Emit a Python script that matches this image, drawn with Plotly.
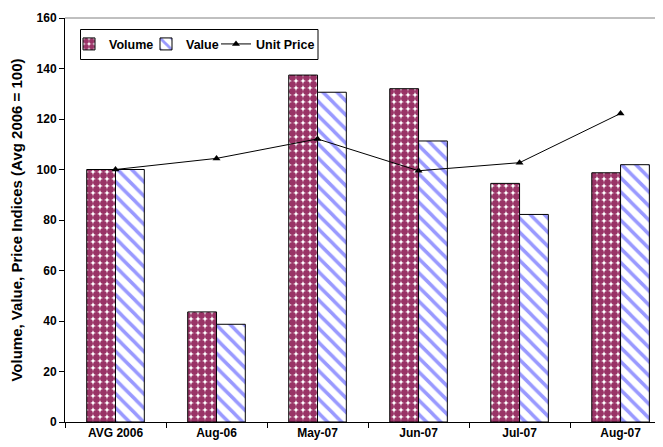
import plotly.graph_objects as go

categories = ["AVG 2006", "Aug-06", "May-07", "Jun-07", "Jul-07", "Aug-07"]
volume = [100, 43.6, 137.4, 132.0, 94.5, 98.7]
value = [100, 38.7, 130.6, 111.3, 82.2, 101.9]
unit_price = [100, 104.4, 112.1, 99.5, 102.7, 122.2]
y_ticks = [0, 20, 40, 60, 80, 100, 120, 140, 160]

FONT = "Liberation Sans, Arial, sans-serif"

# plot area in page pixels: left 65, width 598, bottom 422, height 404
def px_x(p):
    return (p - 65) / 598.0

def px_y(p):
    return (422 - p) / 404.0

fig = go.Figure()
fig.add_trace(go.Bar(
    x=categories, y=volume, name="<b>Volume</b>", legend="legend",
    marker=dict(color="#993366", line=dict(color="#000000", width=1),
                pattern=dict(shape=".", fgcolor="#993366", bgcolor="#ffffff",
                             size=7, solidity=0.75, fillmode="replace")),
))
fig.add_trace(go.Bar(
    x=categories, y=value, name="<b>Value</b>", legend="legend2",
    marker=dict(color="#9999ff", line=dict(color="#000000", width=1),
                pattern=dict(shape="\\", fgcolor="#9999ff", bgcolor="#ffffff",
                             size=10, solidity=0.35, fillmode="replace")),
))
fig.add_trace(go.Scatter(
    x=categories, y=unit_price, name="<b>Unit Price</b>", mode="lines+markers",
    legend="legend3",
    line=dict(color="#000000", width=1),
    marker=dict(symbol="triangle-up", size=7, color="#000000"),
))

leg_common = dict(orientation="h", xanchor="left", yanchor="middle",
                  bgcolor="rgba(0,0,0,0)", borderwidth=0,
                  font=dict(family=FONT, size=12.5, color="#000000"),
                  itemwidth=30)

fig.update_layout(
    width=655, height=439,
    margin=dict(l=57, r=0, t=10, b=25, autoexpand=False),
    paper_bgcolor="#ffffff", plot_bgcolor="#ffffff",
    font=dict(family=FONT, size=12, color="#000000"),
    barmode="group", bargap=0.43, bargroupgap=0,
    showlegend=True,
    legend=dict(x=px_x(69), y=px_y(44.3), **leg_common),
    legend2=dict(x=px_x(146), y=px_y(44.3), **leg_common),
    legend3=dict(x=px_x(216), y=px_y(44.3), **leg_common),
    xaxis=dict(
        type="category", range=[-0.5, 5.42], automargin=False,
        showline=True, linecolor="#000000", linewidth=1,
        ticks="outside", ticklen=5, tickcolor="#000000", tickson="boundaries",
        showgrid=False, zeroline=False,
        tickfont=dict(family=FONT, size=12, color="#000000"),
        tickvals=categories, ticktext=["<b>%s</b>" % c for c in categories],
    ),
    yaxis=dict(
        range=[0, 160], tickvals=y_ticks, ticktext=["<b>%d</b>" % t for t in y_ticks],
        automargin=False,
        showline=True, linecolor="#000000", linewidth=1,
        ticks="outside", ticklen=5, tickcolor="#000000",
        showgrid=False, zeroline=False,
        tickfont=dict(family=FONT, size=12, color="#000000"),
        title=dict(text="<b>Volume, Value, Price Indices (Avg 2006 = 100)</b>",
                   font=dict(family=FONT, size=15, color="#000000"), standoff=10),
    ),
    shapes=[
        dict(type="line", xref="paper", yref="paper", x0=0, x1=1, y0=1, y1=1,
             line=dict(color="#808080", width=1)),
        dict(type="rect", xref="paper", yref="paper", layer="above",
             x0=px_x(80.5), x1=px_x(318), y0=px_y(59.5), y1=px_y(29.5),
             fillcolor="#ffffff", line=dict(color="#000000", width=1)),
    ],
)

fig.write_html("out.html")
